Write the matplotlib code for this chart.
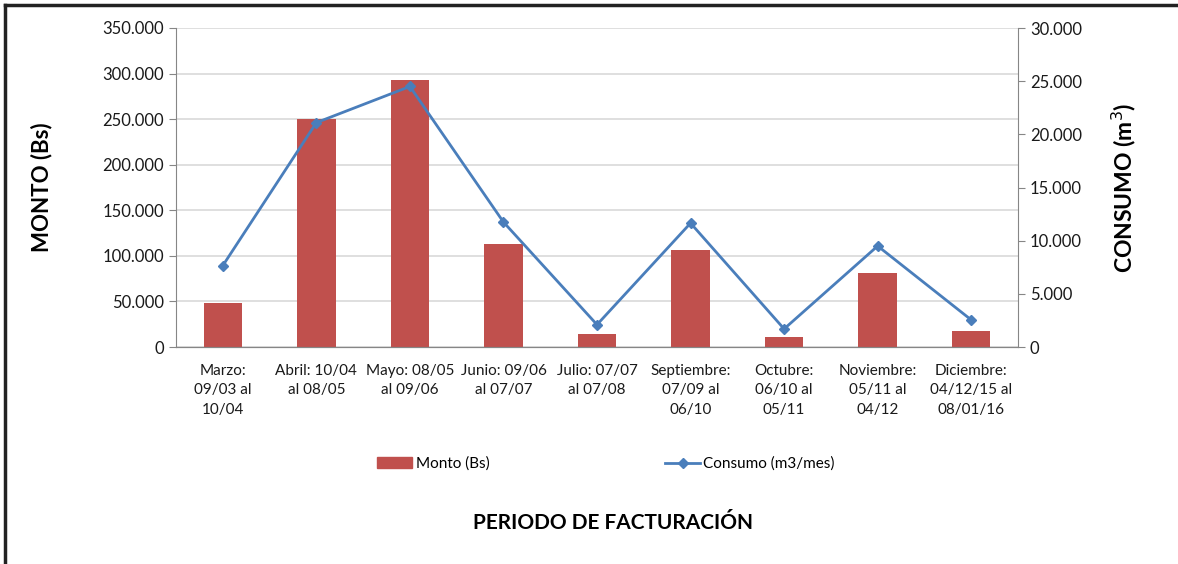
import matplotlib.pyplot as plt
from matplotlib.ticker import FuncFormatter, MultipleLocator
from matplotlib.lines import Line2D

plt.rcParams['font.family'] = ['Lato', 'DejaVu Sans']

periodos = [
    "Marzo:\n09/03 al\n10/04",
    "Abril: 10/04\nal 08/05",
    "Mayo: 08/05\nal 09/06",
    "Junio: 09/06\nal 07/07",
    "Julio: 07/07\nal 07/08",
    "Septiembre:\n07/09 al\n06/10",
    "Octubre:\n06/10 al\n05/11",
    "Noviembre:\n05/11 al\n04/12",
    "Diciembre:\n04/12/15 al\n08/01/16",
]
monto = [48000, 250500, 292500, 112500, 14300, 106500, 11000, 81500, 17500]
consumo = [7650, 21100, 24500, 11750, 2100, 11650, 1700, 9500, 2550]

bar_color = "#C0504D"
line_color = "#4A7EBB"
axis_gray = "#868686"


def miles(v, pos):
    return f"{v:,.0f}".replace(",", ".")


fig = plt.figure(figsize=(11.78, 5.64), dpi=100)
ax = fig.add_axes([176 / 1178, 1 - 347 / 564, (1018 - 176) / 1178, (347 - 28) / 564])
ax2 = ax.twinx()

x = list(range(len(periodos)))
ax.bar(x, monto, width=0.41, color=bar_color, zorder=2)
ax.set_ylim(0, 350000)
ax.set_xlim(-0.5, len(periodos) - 0.5)
ax.yaxis.set_major_locator(MultipleLocator(50000))
ax.yaxis.set_major_formatter(FuncFormatter(miles))
ax.grid(axis="y", color="#D9D9D9", linewidth=1.2, zorder=0)
ax.set_axisbelow(True)

ax2.plot(x, consumo, color=line_color, linewidth=2, marker="D",
         markersize=5, zorder=3)
ax2.set_ylim(0, 30000)
ax2.yaxis.set_major_locator(MultipleLocator(5000))
ax2.yaxis.set_major_formatter(FuncFormatter(miles))

ax.set_xticks(x)
ax.set_xticklabels(periodos, fontsize=11, color="#1a1a1a", linespacing=1.5)
ax.tick_params(axis="x", length=0, pad=12)
ax.tick_params(axis="y", labelsize=12, color=axis_gray, length=5, labelcolor="#1a1a1a")
ax2.tick_params(axis="y", labelsize=12, color=axis_gray, length=5, labelcolor="#1a1a1a")

for a in (ax, ax2):
    a.spines["top"].set_visible(False)
    a.spines["left"].set_color(axis_gray)
    a.spines["right"].set_color(axis_gray)
    a.spines["bottom"].set_color(axis_gray)
ax.spines["right"].set_visible(False)
ax2.spines["left"].set_visible(False)

ax.set_ylabel("MONTO (Bs)", fontsize=16, fontweight="bold", labelpad=36)
ax2.set_ylabel("CONSUMO (m$^3$)", fontsize=16.5, fontweight="bold", labelpad=20)

handles = [
    plt.Rectangle((0, 0), 1, 1, color=bar_color),
    Line2D([0], [0], color=line_color, linewidth=2, marker="D", markersize=5),
]
fig.legend(handles, ["Monto (Bs)", "Consumo (m3/mes)"], loc="center",
           bbox_to_anchor=(606 / 1178, 1 - 464 / 564), ncol=2, frameon=False,
           fontsize=11, columnspacing=11.5, handlelength=2.3, handletextpad=0.2)

fig.text(613 / 1178, 1 - 523 / 564, "PERIODO DE FACTURACIÓN", fontsize=15,
         fontweight="bold", ha="center", va="center")

# marco de la figura (solo arriba e izquierda, como en el recorte)
fig.add_artist(Line2D([5 / 1178, 5 / 1178], [0, 1 - 5 / 564], color="#222222",
                      linewidth=2.5, transform=fig.transFigure))
fig.add_artist(Line2D([5 / 1178, 1], [1 - 5 / 564, 1 - 5 / 564], color="#222222",
                      linewidth=2.5, transform=fig.transFigure))

fig.savefig("out.png", dpi=100)
